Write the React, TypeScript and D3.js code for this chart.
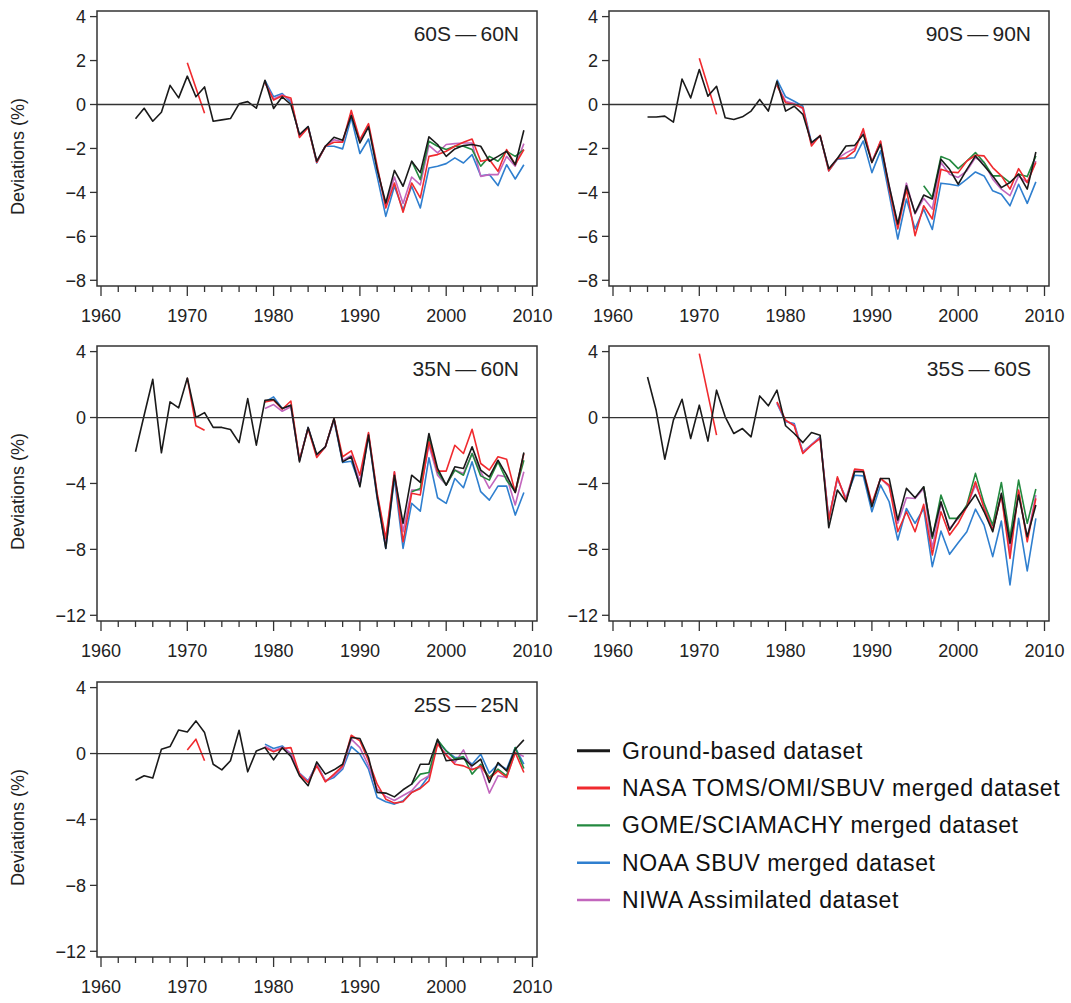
import React from 'react';
import * as d3 from 'd3';

// series start years
const groundStart = 1964;
const nasaEarlyStart = 1970;
const satStart = 1979;
const gomeStart = 1996;

const seriesNames = [
  'Ground-based dataset',
  'NASA TOMS/OMI/SBUV merged dataset',
  'GOME/SCIAMACHY merged dataset',
  'NOAA SBUV merged dataset',
  'NIWA Assimilated dataset',
];
const seriesColors = ['#1a1a1a', '#f02a2e', '#23893f', '#2f7fcf', '#c266bd'];

const xTicks = [1960, 1970, 1980, 1990, 2000, 2010];
const yTicksSmall = [4, 2, 0, -2, -4, -6, -8];
const yTicksLarge = [4, 0, -4, -8, -12];

// ---- 60S-60N
const p1Ground = [
  -0.65, -0.17, -0.76, -0.35, 0.87, 0.3, 1.29, 0.35, 0.8, -0.76,
  -0.7, -0.64, 0.03, 0.13, -0.17, 1.1, -0.18, 0.35, 0.0, -1.37,
  -1.0, -2.58, -1.9, -1.49, -1.63, -0.5, -1.75, -1.02, -2.96, -4.48,
  -3.0, -3.72, -2.58, -3.1, -1.47, -1.82, -2.36, -2.02, -1.87, -1.82,
  -1.9, -2.58, -2.36, -2.13, -2.74, -1.17,
];
const p1NasaEarly = [1.9, 0.75, -0.4];
const p1Nasa = [
  1.0, 0.2, 0.4, 0.3, -1.5,
  -1.05, -2.63, -1.9, -1.72, -1.72, -0.27, -1.6, -0.87, -2.8, -4.71,
  -3.57, -4.9, -3.57, -4.25, -2.36, -2.28, -2.13, -1.9, -1.72, -1.57,
  -2.58, -2.5, -3.04, -2.05, -2.74, -2.05,
];
const p1Noaa = [
  1.1, 0.35, 0.5, 0.1, -1.4,
  -1.0, -2.66, -1.9, -1.9, -2.02, -0.61, -2.23, -1.57, -3.27, -5.09,
  -3.72, -4.79, -3.72, -4.71, -2.89, -2.81, -2.69, -2.43, -2.66, -2.28,
  -3.24, -3.19, -3.69, -2.74, -3.39, -2.74,
];
const p1Gome = [-2.58, -3.42, -1.67, -1.9, -2.05, -1.9, -1.9, -2.05, -2.81, -2.36, -2.58, -2.13, -2.36, -2.05];
const p1Niwa = [
  1.0, 0.25, 0.45, 0.2, -1.45,
  -1.02, -2.6, -1.9, -1.6, -1.7, -0.4, -1.7, -0.95, -2.9, -4.6,
  -3.3, -4.5, -3.3, -3.66, -1.86, -2.2, -1.82, -1.78, -1.75, -1.75,
  -3.27, -3.19, -3.19, -2.36, -2.81, -1.78,
];

// ---- 90S-90N
const p2Ground = [
  -0.57, -0.57, -0.53, -0.8, 1.16, 0.3, 1.59, 0.38, 0.83, -0.6,
  -0.68, -0.56, -0.3, 0.23, -0.3, 1.06, -0.3, -0.08, -0.45, -1.74,
  -1.43, -2.92, -2.46, -1.89, -1.86, -1.36, -2.64, -1.81, -3.7, -5.44,
  -3.7, -4.94, -4.12, -4.3, -2.49, -2.95, -3.63, -2.95, -2.34, -2.79,
  -3.25, -3.78, -3.55, -3.17, -3.85, -2.16,
];
const p2NasaEarly = [2.1, 0.83, -0.45];
const p2Nasa = [
  0.86, 0.08, 0.0, -0.15, -1.89,
  -1.4, -3.02, -2.46, -2.42, -2.11, -1.1, -2.64, -1.66, -3.85, -5.66,
  -3.85, -5.97, -4.61, -5.21, -2.95, -3.07, -3.1, -2.57, -2.31, -2.34,
  -2.87, -3.25, -3.85, -2.92, -3.55, -2.64,
];
const p2Noaa = [
  1.13, 0.35, 0.15, -0.08, -1.74,
  -1.43, -3.02, -2.49, -2.46, -2.42, -1.66, -3.1, -2.11, -4.08, -6.12,
  -4.3, -5.66, -4.76, -5.69, -3.58, -3.63, -3.7, -3.4, -3.07, -3.25,
  -3.93, -4.08, -4.61, -3.63, -4.5, -3.52,
];
const p2Gome = [-3.7, -4.23, -2.37, -2.52, -2.92, -2.57, -2.19, -2.64, -3.25, -3.25, -3.55, -3.17, -3.28, -2.34];
const p2Niwa = [
  0.9, 0.15, 0.05, -0.2, -1.8,
  -1.42, -2.95, -2.46, -2.2, -2.0, -1.2, -2.6, -1.7, -3.7, -5.51,
  -3.58, -4.98, -4.27, -4.76, -2.64, -3.17, -3.32, -3.02, -2.42, -2.64,
  -3.4, -3.85, -4.15, -3.25, -3.55, -2.57,
];

// ---- 35N-60N
const p3Ground = [
  -2.08, 0.14, 2.32, -2.14, 0.95, 0.59, 2.4, 0.0, 0.3, -0.6,
  -0.6, -0.73, -1.52, 1.15, -1.68, 1.05, 1.09, 0.55, 0.75, -2.69,
  -0.6, -2.24, -1.78, -0.06, -2.69, -2.38, -4.2, -1.07, -4.8, -7.94,
  -3.5, -6.42, -3.5, -3.94, -0.97, -3.09, -4.1, -2.99, -3.09, -1.78,
  -3.19, -3.6, -2.59, -3.5, -4.55, -2.12,
];
const p3NasaEarly = [2.4, -0.5, -0.77];
const p3Nasa = [
  0.95, 1.05, 0.5, 1.0, -2.58,
  -0.67, -2.42, -1.78, -0.06, -2.38, -2.02, -3.5, -0.91, -4.6, -7.33,
  -3.29, -7.54, -4.6, -4.7, -1.47, -3.25, -3.25, -1.68, -2.18, -0.71,
  -2.79, -3.19, -2.38, -2.53, -4.55, -2.18,
];
const p3Noaa = [
  0.95, 1.25, 0.55, 0.75, -2.6,
  -0.6, -2.3, -1.78, -0.15, -2.73, -2.65, -4.1, -1.11, -4.9, -7.94,
  -3.7, -7.94, -5.21, -5.68, -2.44, -4.87, -5.21, -3.7, -4.26, -2.69,
  -4.5, -5.01, -4.16, -4.16, -5.92, -4.55,
];
const p3Gome = [-4.5, -4.3, -1.27, -3.29, -4.1, -3.19, -3.5, -2.18, -3.54, -3.8, -2.69, -3.8, -4.5, -2.59];
const p3Niwa = [
  0.55, 0.79, 0.38, 0.65, -2.6,
  -0.62, -2.35, -1.78, -0.1, -2.6, -2.3, -3.9, -1.0, -4.7, -7.54,
  -3.3, -6.93, -4.4, -4.4, -1.68, -3.5, -4.1, -3.19, -3.39, -2.18,
  -3.3, -4.3, -3.5, -3.6, -5.31, -3.29,
];

// ---- 35S-60S
const p4Ground = [
  2.46, 0.44, -2.53, -0.16, 1.11, -1.27, 0.75, -1.43, 1.66, 0.04,
  -0.97, -0.67, -1.17, 1.31, 0.71, 1.66, -0.5, -0.97, -1.52, -0.91,
  -1.07, -6.69, -4.4, -5.11, -3.29, -3.29, -5.41, -3.7, -3.7, -6.22,
  -4.3, -4.87, -4.2, -7.23, -5.11, -6.83, -6.02, -5.41, -4.67, -5.72,
  -6.93, -4.6, -7.64, -4.71, -7.23, -5.31,
];
const p4NasaEarly = [3.88, 1.4, -1.07];
const p4Nasa = [
  0.95, -0.16, -0.5, -2.18, -1.68,
  -1.27, -6.22, -3.6, -5.07, -3.13, -3.19, -5.21, -3.7, -4.1, -6.93,
  -5.72, -6.93, -5.27, -8.34, -5.72, -7.13, -6.42, -5.41, -3.9, -5.52,
  -6.83, -4.71, -8.55, -4.4, -7.54, -4.91,
];
const p4Noaa = [
  0.85, -0.26, -0.36, -2.09, -1.64,
  -1.17, -6.12, -3.7, -4.91, -3.5, -3.54, -5.72, -4.1, -5.11, -7.43,
  -5.52, -6.42, -5.52, -9.05, -6.89, -8.3, -7.6, -6.93, -5.56, -6.53,
  -8.44, -6.28, -10.16, -6.12, -9.31, -6.12,
];
const p4Gome = [-4.2, -7.33, -4.71, -6.12, -6.12, -5.31, -3.39, -5.21, -6.53, -3.94, -7.29, -3.8, -6.42, -4.34];
const p4Niwa = [
  0.9, -0.2, -0.45, -2.1, -1.66,
  -1.2, -6.22, -3.7, -4.91, -3.19, -3.25, -5.31, -3.7, -4.2, -6.42,
  -4.87, -4.91, -4.3, -7.94, -5.21, -6.73, -6.12, -5.41, -4.1, -5.31,
  -6.73, -4.71, -8.14, -4.5, -7.33, -4.71,
];

// ---- 25S-25N
const p5Ground = [
  -1.62, -1.35, -1.49, 0.26, 0.42, 1.43, 1.31, 1.98, 1.27, -0.65,
  -0.99, -0.44, 1.41, -1.11, 0.16, 0.36, -0.38, 0.36, -0.18, -1.35,
  -1.95, -0.51, -1.25, -0.99, -0.65, 0.97, 0.91, -0.24, -2.36, -2.4,
  -2.63, -2.2, -1.86, -0.65, -0.65, 0.87, -0.44, -0.38, -0.3, -0.75,
  -0.34, -1.76, -0.55, -1.05, 0.26, 0.83,
];
const p5NasaEarly = [0.22, 0.87, -0.44];
const p5Nasa = [
  0.36, 0.1, 0.3, 0.36, -1.25,
  -1.76, -0.75, -1.72, -1.25, -0.75, 1.11, 0.77, -0.44, -1.86, -2.77,
  -3.01, -2.93, -2.36, -2.12, -1.66, 0.57, -0.1, -0.65, -0.75, -0.99,
  -0.75, -1.52, -1.05, -1.45, 0.06, -1.15,
];
const p5Noaa = [
  0.57, 0.3, 0.46, -0.04, -1.19,
  -1.66, -0.65, -1.66, -1.45, -0.95, 0.42, -0.04, -0.95, -2.67, -2.93,
  -3.07, -2.87, -2.36, -2.06, -1.35, 0.77, 0.16, -0.24, -0.24, -0.65,
  -0.04, -1.19, -0.65, -0.95, 0.36, -0.65,
];
const p5Gome = [-1.86, -1.25, -1.15, 0.83, 0.16, -0.34, -0.18, -1.25, -0.65, -1.45, -0.95, -1.35, 0.36, -0.91];
const p5Niwa = [
  0.45, 0.15, 0.38, 0.0, -1.22,
  -1.7, -0.65, -1.66, -1.35, -0.85, 0.87, 0.36, -0.75, -2.16, -2.6,
  -2.85, -2.55, -2.26, -1.66, -1.35, 0.63, -0.06, -0.55, 0.22, -0.95,
  -0.85, -2.4, -1.35, -1.45, 0.06, -0.18,
];

const FONT = '"Liberation Sans", Arial, Helvetica, sans-serif';
const W = 440;
const H = 275;

const panels = [
  { title: '60S\u2009\u2014\u200960N', left: 97, top: 11, yTicks: yTicksSmall,
    ground: p1Ground, nasaEarly: p1NasaEarly, nasa: p1Nasa, noaa: p1Noaa, gome: p1Gome, niwa: p1Niwa },
  { title: '90S\u2009\u2014\u200990N', left: 609, top: 11, yTicks: yTicksSmall,
    ground: p2Ground, nasaEarly: p2NasaEarly, nasa: p2Nasa, noaa: p2Noaa, gome: p2Gome, niwa: p2Niwa },
  { title: '35N\u2009\u2014\u200960N', left: 97, top: 346, yTicks: yTicksLarge,
    ground: p3Ground, nasaEarly: p3NasaEarly, nasa: p3Nasa, noaa: p3Noaa, gome: p3Gome, niwa: p3Niwa },
  { title: '35S\u2009\u2014\u200960S', left: 609, top: 346, yTicks: yTicksLarge,
    ground: p4Ground, nasaEarly: p4NasaEarly, nasa: p4Nasa, noaa: p4Noaa, gome: p4Gome, niwa: p4Niwa },
  { title: '25S\u2009\u2014\u200925N', left: 97, top: 682, yTicks: yTicksLarge,
    ground: p5Ground, nasaEarly: p5NasaEarly, nasa: p5Nasa, noaa: p5Noaa, gome: p5Gome, niwa: p5Niwa },
];

const fmt = (v: number) => (v < 0 ? '\u2212' + Math.abs(v) : String(v));

function Panel({ p }: { p: any }) {
  const { left, top } = p;
  const bottom = top + H;
  const right = left + W;
  const x = d3.scaleLinear().domain([1960, 2010]).range([left + 4, right - 4.5]);
  const y = d3.scaleLinear()
    .domain([p.yTicks[p.yTicks.length - 1], p.yTicks[0]])
    .range([bottom - 5.7, top + 5.6]);
  const line = d3.line<[number, number]>().x(d => x(d[0])).y(d => y(d[1]));
  const path = (start: number, vals: number[]) =>
    line(vals.map((v, i) => [start + i, v] as [number, number])) || '';

  // drawing order: blue, magenta, green, red, black on top
  const layers = [
    { d: path(satStart, p.noaa), c: seriesColors[3] },
    { d: path(satStart, p.niwa), c: seriesColors[4] },
    { d: path(gomeStart, p.gome), c: seriesColors[2] },
    { d: path(nasaEarlyStart, p.nasaEarly), c: seriesColors[1] },
    { d: path(satStart, p.nasa), c: seriesColors[1] },
    { d: path(groundStart, p.ground), c: seriesColors[0] },
  ];
  const minorYears = d3.range(1960, 2011, 2);

  return (
    <g>
      {layers.map((l, i) => (
        <path key={i} d={l.d} fill="none" stroke={l.c} strokeWidth={1.6} strokeLinejoin="round" />
      ))}
      <line x1={left} x2={right} y1={y(0)} y2={y(0)} stroke="#333" strokeWidth={1.3} />
      <rect x={left} y={top} width={W} height={H} fill="none" stroke="#333" strokeWidth={1.5} />
      {p.yTicks.map((t: number) => (
        <g key={t}>
          <line x1={left - 7} x2={left} y1={y(t)} y2={y(t)} stroke="#333" strokeWidth={1.3} />
          <text x={left - 11} y={y(t) + 6.5} textAnchor="end" fontSize={18} fill="#222" fontFamily={FONT}>
            {fmt(t)}
          </text>
        </g>
      ))}
      {minorYears.map(yr => (
        <line key={yr} x1={x(yr)} x2={x(yr)} y1={bottom} y2={bottom + (yr % 10 === 0 ? 10 : 6)}
          stroke="#333" strokeWidth={1.3} />
      ))}
      {xTicks.map(yr => (
        <text key={yr} x={x(yr)} y={bottom + 36} textAnchor="middle" fontSize={18} fill="#222" fontFamily={FONT}>
          {yr}
        </text>
      ))}
      <text x={right - 18} y={top + 30} textAnchor="end" fontSize={21} fill="#222" fontFamily={FONT}>
        {p.title}
      </text>
      {left < 300 && (
        <text transform={`translate(24,${top + H / 2 + 8}) rotate(-90)`} textAnchor="middle"
          fontSize={18} fill="#222" fontFamily={FONT}>
          Deviations (%)
        </text>
      )}
    </g>
  );
}

export default function App() {
  const legendY = d3.scalePoint<string>().domain(seriesNames).range([750.7, 900]);
  return (
    <svg width={1071} height={1003} style={{ position: 'absolute', left: 0, top: 0, background: '#fff' }}>
      <rect width={1071} height={1003} fill="#fff" />
      {panels.map((p, i) => <Panel key={i} p={p} />)}
      {seriesNames.map((name, i) => (
        <g key={name}>
          <line x1={577} x2={610} y1={legendY(name)} y2={legendY(name)} stroke={seriesColors[i]}
            strokeWidth={i < 2 ? 3 : 2.4} />
          <text x={622} y={(legendY(name) as number) + 8} fontSize={23} letterSpacing={0.6}
            fill="#111" fontFamily={FONT}>
            {name}
          </text>
        </g>
      ))}
    </svg>
  );
}
